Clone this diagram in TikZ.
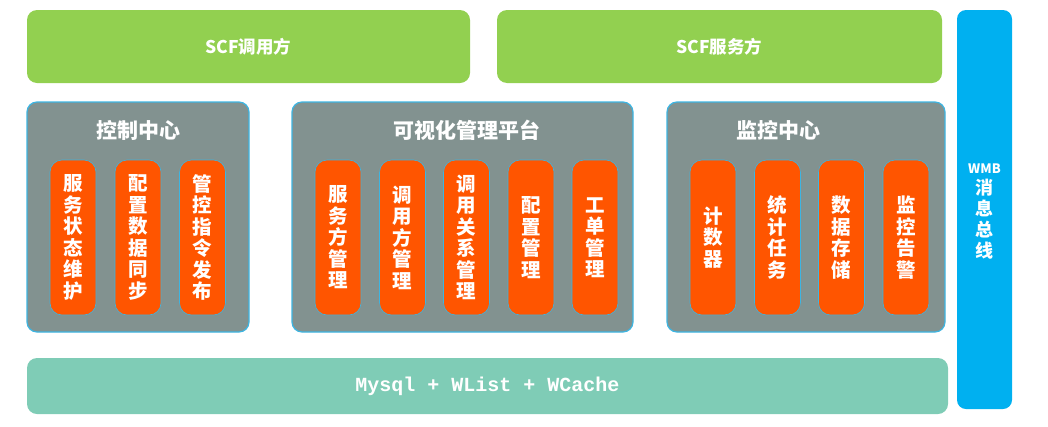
\documentclass[tikz,border=0pt]{standalone}
\usepackage{fontspec}
\setmainfont{Noto Sans CJK SC}
\newfontfamily\barfont{Liberation Mono}
\usetikzlibrary{positioning}
\definecolor{scfgreen}{HTML}{92D050}
\definecolor{groupgray}{HTML}{829290}
\definecolor{groupline}{HTML}{3DB5E2}
\definecolor{pillorange}{HTML}{FF5500}
\definecolor{storeteal}{HTML}{7FCCB6}
\definecolor{busblue}{HTML}{00B0F0}
\begin{document}
\begin{tikzpicture}[x=1pt,y=-1pt,
  every node/.style={text=white,font=\bfseries,inner sep=0pt},
  scfbox/.style={fill=scfgreen,rounded corners=10pt,minimum width=443pt,minimum height=73pt,
    font=\bfseries\fontsize{17.5}{19}\selectfont},
  groupbox/.style={fill=groupgray,draw=groupline,line width=1.2pt,rounded corners=10pt,minimum height=230pt},
  grouptitle/.style={font=\bfseries\fontsize{21}{24}\selectfont},
  pill/.style={fill=pillorange,draw=groupline,line width=0.6pt,rounded corners=12pt,
    minimum width=46pt,minimum height=155pt,align=center,
    font=\bfseries\fontsize{19.5}{21.5}\selectfont},
  storebox/.style={fill=storeteal,rounded corners=10pt,minimum width=921pt,minimum height=56pt,
    font=\barfont\bfseries\fontsize{20}{22}\selectfont},
  busbox/.style={fill=busblue,rounded corners=9pt,minimum width=55pt,minimum height=399pt,
    align=center,font=\bfseries\fontsize{18}{21}\selectfont}
]
\useasboundingbox (0,0) rectangle (1048,426);
% top row
\node[scfbox] (caller) at (248.5,46.5) {SCF调用方};
\node[scfbox,minimum width=445pt] (provider) at (719.5,46.5) {SCF服务方};
% groups
\node[groupbox,minimum width=222pt] (ctrl) at (138,217) {};
\node[groupbox,minimum width=341pt] (visual) at (462.5,217) {};
\node[groupbox,minimum width=278pt] (monitor) at (806,217) {};
\node[grouptitle] (ctrltitle) at (138,130) {控制中心};
\node[grouptitle] (visualtitle) at (467,130) {可视化管理平台};
\node[grouptitle] (monitortitle) at (778,130) {监控中心};
% control center
\node[pill] (statekeep) at (73,237.5) {服\\务\\状\\态\\维\\护};
\node[pill] (confsync) at (138,237.5) {配\\置\\数\\据\\同\\步};
\node[pill] (cmdissue) at (202.5,237.5) {管\\控\\指\\令\\发\\布};
% visual platform
\node[pill] (provmgr) at (338,237.5) {服\\务\\方\\管\\理};
\node[pill] (callmgr) at (402.5,237.5) {调\\用\\方\\管\\理};
\node[pill] (relmgr) at (466.5,237.5) {调\\用\\关\\系\\管\\理};
\node[pill] (confmgr) at (531,237.5) {配\\置\\管\\理};
\node[pill] (ticketmgr) at (595,237.5) {工\\单\\管\\理};
% monitor center
\node[pill] (counter) at (713,237.5) {计\\数\\器};
\node[pill] (stattask) at (777.5,237.5) {统\\计\\任\\务};
\node[pill] (datastore) at (841.5,237.5) {数\\据\\存\\储};
\node[pill] (alarm) at (906,237.5) {监\\控\\告\\警};
% storage and bus
\node[storebox] (store) at (487.5,386) {Mysql + WList + WCache};
\node[busbox] (bus) at (984.5,209.5) {};
\node[align=center,font=\bfseries\fontsize{18}{21}\selectfont] (bustext) at (984.5,212)
  {{\fontsize{13}{15}\selectfont WMB}\\消\\息\\总\\线};
\end{tikzpicture}
\end{document}
